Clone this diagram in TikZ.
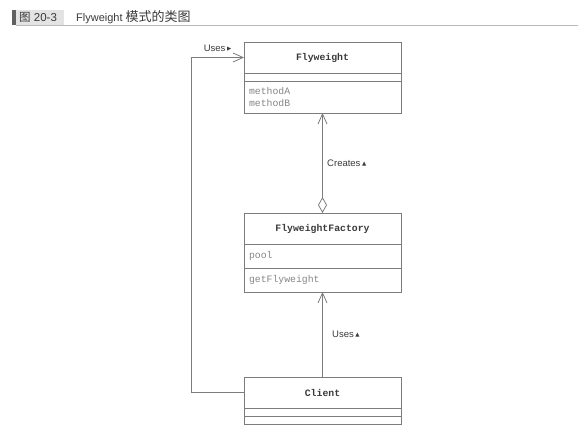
\documentclass[tikz,border=0pt]{standalone}
\usepackage{fontspec}
\setmainfont{Liberation Sans}
\setmonofont{Liberation Mono}
\newfontfamily\cjk{Noto Sans CJK SC}
\newfontfamily\symb{DejaVu Sans}
\usetikzlibrary{arrows.meta,positioning}
\definecolor{edge}{HTML}{7C7C7C}
\definecolor{ink}{HTML}{3A3A3A}
\definecolor{member}{HTML}{858585}
\newcommand{\uptri}{{\symb\fontsize{5.5}{5.5}\selectfont\raisebox{1pt}{▲}}}
\newcommand{\rttri}{{\symb\fontsize{5.5}{5.5}\selectfont\raisebox{1.5pt}{▶}}}

\begin{document}
\begin{tikzpicture}[x=1pt,y=-1pt,
  cname/.style={draw=edge,line width=0.8pt,minimum width=157pt,minimum height=31pt,inner sep=0pt,outer sep=0pt,
    font=\ttfamily\bfseries\fontsize{9.8}{12}\selectfont,text=ink},
  cpart/.style={draw=edge,line width=0.8pt,minimum width=157pt,inner sep=0pt,outer sep=0pt,text width=147pt,align=left,
    font=\ttfamily\fontsize{9.8}{12}\selectfont,text=member},
  rel/.style={draw=edge,line width=0.8pt},
  open/.style={-{Straight Barb[length=10pt,width=9pt]}},
  lbl/.style={font=\fontsize{9.5}{11}\selectfont,text=ink}]
  \useasboundingbox (0,0) rectangle (586,441);
  % Caption
  \fill[gray!75!black] (12,10) rectangle (15.5,25.5);
  \fill[gray!22] (15.5,10) rectangle (64,25.5);
  \draw[gray!55,line width=1pt] (15.5,26) -- (578,26);
  \node[anchor=west,inner sep=0pt,text=ink,font=\fontsize{11.5}{13}\selectfont] (fignum) at (19,17.5) {{\cjk 图} 20-3};
  \node[anchor=west,inner sep=0pt,text=ink,font=\fontsize{11}{13}\selectfont] (figtitle) at (76,17.5)
    {Flyweight {\cjk\fontsize{13}{13}\selectfont 模式的类图}};
  % Flyweight
  \node[cname] (fw) at (322.5,57.5) {Flyweight};
  \node[cpart,minimum height=8pt,below=0pt of fw] (fwattr) {};
  \node[cpart,minimum height=32pt,below=0pt of fwattr] (fwops) {methodA\\methodB};
  % FlyweightFactory
  \node[cname] (fa) at (322.5,228.5) {FlyweightFactory};
  \node[cpart,minimum height=24pt,below=0pt of fa] (faattr) {pool};
  \node[cpart,minimum height=24pt,below=0pt of faattr] (faops) {getFlyweight};
  % Client
  \node[cname] (cl) at (322.5,392.5) {Client};
  \node[cpart,minimum height=8pt,below=0pt of cl] (clattr) {};
  \node[cpart,minimum height=8pt,below=0pt of clattr] (clops) {};
  % relations
  \draw[rel,{Diamond[open,length=16pt,width=9pt]}-{Straight Barb[length=10pt,width=9pt]}]
    (fa) -- node[lbl,right,xshift=1pt]{Creates\,\uptri} (fwops);
  \draw[rel,open] (cl) -- node[lbl,right,xshift=6pt]{Uses\,\uptri} (faops);
  \coordinate (turn) at (191,57.5);
  \draw[rel,open] (cl.west) -| (turn) -- node[lbl,above,yshift=2pt]{Uses\,\rttri} (fw.west);
\end{tikzpicture}
\end{document}
